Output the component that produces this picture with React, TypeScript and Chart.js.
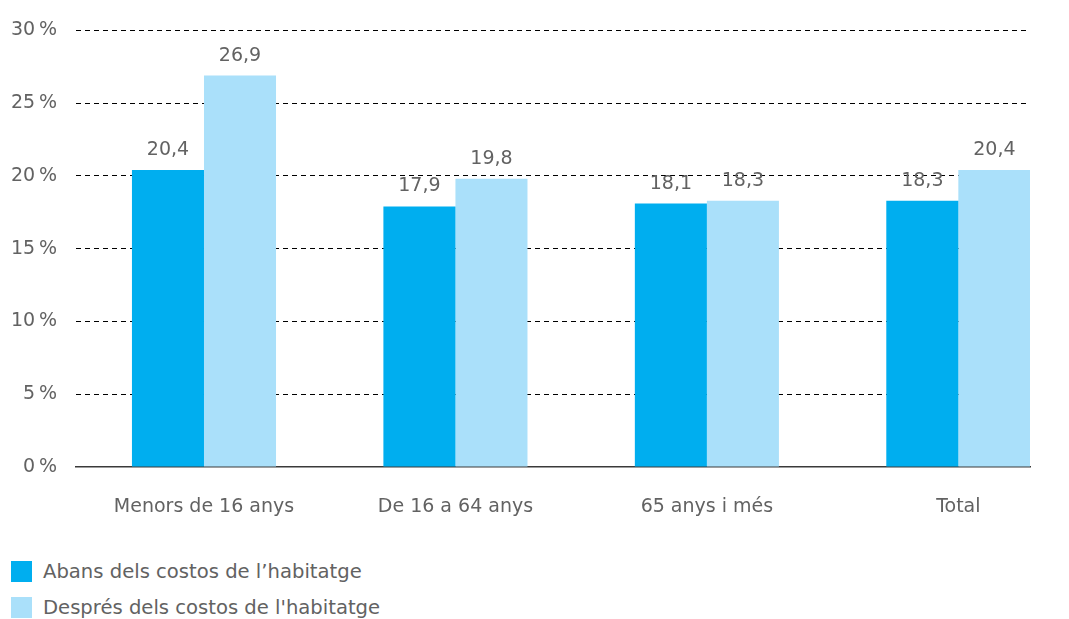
import React, { useEffect, useRef } from "react";
import { Chart, registerables } from "chart.js";

Chart.register(...registerables);

const categories = ["Menors de 16 anys", "De 16 a 64 anys", "65 anys i més", "Total"];
const abans = [20.4, 17.9, 18.1, 18.3];
const despres = [26.9, 19.8, 18.3, 20.4];
const seriesLabels = ["Abans dels costos de l\u2019habitatge", "Després dels costos de l'habitatge"];
const seriesColors = ["#00AEEF", "#AAE0FA"];
const yTicks = [0, 5, 10, 15, 20, 25, 30];

const FONT = "'DejaVu Sans', sans-serif";
const FS = 19;
const TEXT = "#626262";

const valueLabels = {
  id: "valueLabels",
  afterDatasetsDraw(chart: any) {
    const ctx = chart.ctx;
    ctx.save();
    ctx.font = `${FS}px ${FONT}`;
    ctx.fillStyle = TEXT;
    ctx.textAlign = "center";
    ctx.textBaseline = "alphabetic";
    chart.data.datasets.forEach((ds: any, di: number) => {
      const meta = chart.getDatasetMeta(di);
      meta.data.forEach((bar: any, i: number) => {
        const v = ds.data[i].y;
        ctx.fillText(v.toFixed(1).replace(".", ","), bar.x, bar.y - 15);
      });
    });
    ctx.restore();
  },
};

export default function App() {
  const ref = useRef<HTMLCanvasElement>(null);
  useEffect(() => {
    if (!ref.current) return;
    const chart = new Chart(ref.current, {
      type: "bar",
      data: {
        datasets: [
          {
            label: seriesLabels[0],
            data: abans.map((y, x) => ({ x, y })),
            backgroundColor: seriesColors[0],
            categoryPercentage: 0.573,
            barPercentage: 1,
          },
          {
            label: seriesLabels[1],
            data: despres.map((y, x) => ({ x, y })),
            backgroundColor: seriesColors[1],
            categoryPercentage: 0.573,
            barPercentage: 1,
          },
        ],
      } as any,
      options: {
        responsive: false,
        animation: false,
        layout: { padding: { top: 28, right: 39, left: 0, bottom: 0 } },
        plugins: { legend: { display: false }, tooltip: { enabled: false } },
        scales: {
          x: {
            type: "linear",
            offset: false,
            min: -0.509,
            max: 3.285,
            grid: { display: false, drawTicks: false },
            border: { display: true, color: "#3a3a3a", width: 1.5 },
            afterBuildTicks: (scale: any) => {
              scale.ticks = categories.map((_, i) => ({ value: i }));
            },
            afterFit: (scale: any) => {
              scale.height = 63;
            },
            ticks: {
              padding: 29,
              color: TEXT,
              font: { family: FONT, size: FS },
              maxRotation: 0,
              autoSkip: false,
              callback: (v: any) => categories[v as number] ?? "",
            },
          },
          y: {
            min: 0,
            max: 30,
            afterBuildTicks: (scale: any) => {
              scale.ticks = yTicks.map((v) => ({ value: v }));
            },
            afterFit: (scale: any) => {
              scale.width = 76;
            },
            grid: {
              drawTicks: false,
              lineWidth: 1,
              color: (c: any) => (c.tick && c.tick.value === 0 ? "rgba(0,0,0,0)" : "#000"),
            },
            border: { display: false, dash: [5, 4] },
            ticks: {
              padding: 19,
              color: TEXT,
              font: { family: FONT, size: FS },
              callback: (v: any) => `${v}\u2009%`,
            },
          },
        },
      } as any,
      plugins: [valueLabels],
    });
    return () => chart.destroy();
  }, []);

  return (
    <div style={{ position: "fixed", left: 0, top: 0, width: 1069, height: 619, background: "#fff", fontFamily: FONT }}>
      <canvas ref={ref} width={1069} height={530} style={{ display: "block", width: 1069, height: 530 }} />
      {seriesLabels.map((l, i) => (
        <div
          key={l}
          style={{ position: "absolute", left: 11, top: 561 + i * 36, height: 21, display: "flex", alignItems: "center", color: TEXT, fontSize: 19.6, whiteSpace: "nowrap" }}
        >
          <span style={{ display: "inline-block", width: 21, height: 21, background: seriesColors[i], marginRight: 11 }} />
          <span>{l}</span>
        </div>
      ))}
    </div>
  );
}
